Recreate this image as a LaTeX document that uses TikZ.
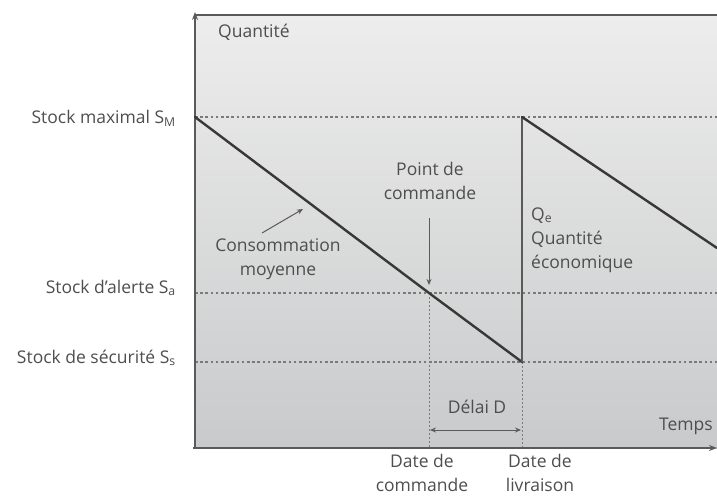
\documentclass[tikz,border=0pt]{standalone}
\usepackage{fontspec}
\setmainfont{Open Sans}
\usetikzlibrary{arrows.meta}
\definecolor{txt}{HTML}{4E4E4E}
\definecolor{bgtop}{HTML}{EDEDED}
\definecolor{bgbot}{HTML}{C9CACB}
\definecolor{saw}{HTML}{383838}
\definecolor{dotc}{HTML}{7A7A7A}
\definecolor{axisc}{HTML}{5A5A5A}
\begin{document}
\begin{tikzpicture}[x=1pt,y=-1pt,
  lbl/.style={text=txt,font=\fontsize{17.5}{24}\selectfont,inner sep=0pt},
  sawline/.style={draw=saw,line width=2.4pt,line cap=round},
  levelline/.style={draw=dotc,line width=1.2pt,dash pattern=on 2.6pt off 2.6pt},
  dropline/.style={draw=dotc,line width=1pt,dash pattern=on 2pt off 2pt},
  axisline/.style={draw=axisc,line width=1.4pt},
  thinarrow/.style={draw=axisc,line width=1pt,-{Stealth[length=6pt,width=5pt]}}]
\useasboundingbox (0,0) rectangle (717,497);
% background panel
\shade[top color=bgtop,bottom color=bgbot] (194,15) rectangle (717,448);
% coordinates
\coordinate (O) at (195,448);
\coordinate (ytop) at (195,12);
\coordinate (tl) at (195,15);
\coordinate (tr) at (717,15);
\coordinate (xend) at (717,448);
\coordinate (xstart) at (193,448);
\coordinate (M0) at (195,117);
\coordinate (M1) at (522,117);
\coordinate (Mr) at (717,117);
\coordinate (A0) at (195,293);
\coordinate (A1) at (429,293);
\coordinate (Ar) at (717,293);
\coordinate (S0) at (195,362);
\coordinate (S1) at (522,362);
\coordinate (Sr) at (717,362);
\coordinate (C0) at (429,448);
\coordinate (L0) at (522,448);
\coordinate (E) at (717,248);
% level lines
\draw[levelline] (M0) -- (Mr);
\draw[levelline] (A0) -- (Ar);
\draw[levelline] (S0) -- (Sr);
\draw[dropline] (A1) -- (C0);
\draw[dropline] (S1) -- (L0);
% frame and axes
\draw[draw=axisc,line width=1.6pt] (tl) -- (tr);
\draw[axisline,-{Stealth[length=8pt,width=6pt]}] (O) -- (ytop);
\draw[axisline,line width=1.8pt,-{Stealth[length=8pt,width=6pt]}] (xstart) -- (xend);
% sawtooth
\draw[sawline] (M0) -- (A1) -- (S1);
\draw[draw=axisc,line width=1.6pt] (S1) -- (M1);
\draw[sawline] (M1) -- (E);
% labels left
\node[lbl,anchor=base east] (lM) at (176,124) {Stock maximal S\textsubscript{M}};
\node[lbl,anchor=base east] (lA) at (176,293) {Stock d’alerte S\textsubscript{a}};
\node[lbl,anchor=base east] (lS) at (176,363) {Stock de sécurité S\textsubscript{s}};
\node[lbl,anchor=base west] (q) at (218,38) {Quantité};
% consommation
\node[lbl,anchor=base,align=center] (cons) at (278,275) {Consommation\\moyenne};
\coordinate (c1) at (262,233);
\coordinate (c2) at (303,209);
\draw[thinarrow] (c1) -- (c2);
% point de commande
\node[lbl,anchor=base,align=center] (pc) at (430,200) {Point de\\commande};
\coordinate (p1) at (429,218);
\coordinate (p2) at (429,285);
\draw[thinarrow] (p1) -- (p2);
% Qe
\node[lbl,anchor=base west,align=left] (qe) at (531,268) {Q\textsubscript{e}\\Quantité\\économique};
% delai
\node[lbl,anchor=base] (dl) at (477,413) {Délai D};
\coordinate (d1) at (430,430);
\coordinate (d2) at (521,430);
\draw[draw=axisc,line width=1pt,{Stealth[length=6pt,width=5pt]}-{Stealth[length=6pt,width=5pt]}] (d1) -- (d2);
\node[lbl,anchor=base east] (tp) at (713,430) {Temps};
% dates
\node[lbl,anchor=base,align=center] (dc) at (422,491) {Date de\\commande};
\node[lbl,anchor=base,align=center] (dlv) at (540,491) {Date de\\livraison};
\end{tikzpicture}
\end{document}
